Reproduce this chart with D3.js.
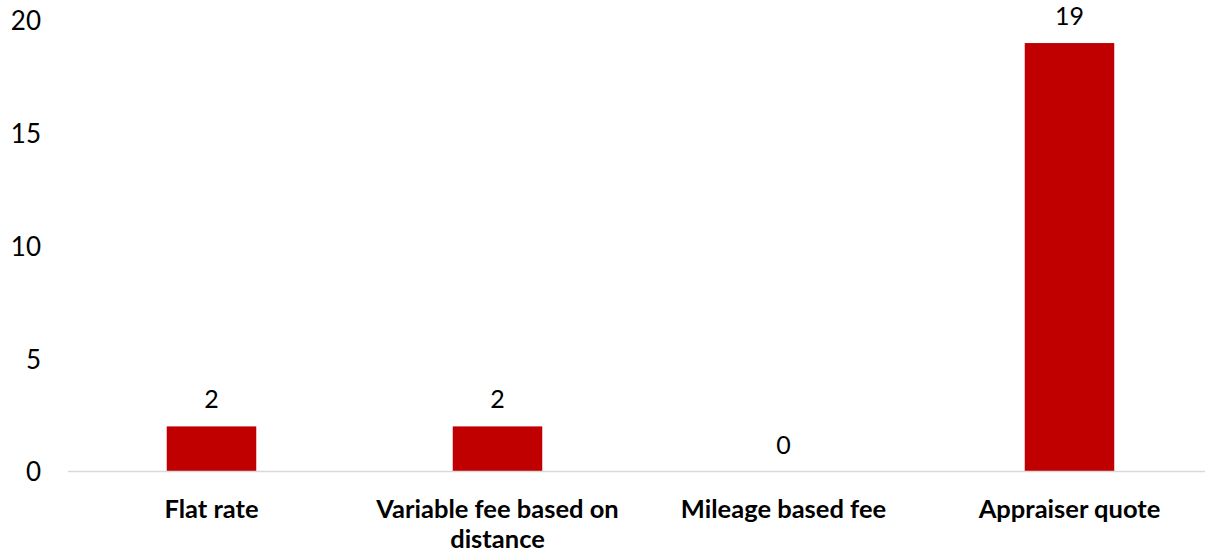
<!DOCTYPE html>
<html><head><meta charset="utf-8">
<script src="https://cdn.jsdelivr.net/npm/d3@7"></script>
<style>body{margin:0;background:#fff}svg{display:block}text{font-family:Lato,"Open Sans",sans-serif}</style>
</head><body>
<script>
const categories = ["Flat rate", "Variable fee based on distance", "Mileage based fee", "Appraiser quote"];
const categoryLines = [["Flat rate"], ["Variable fee based on", "distance"], ["Mileage based fee"], ["Appraiser quote"]];
const values = [2, 2, 0, 19];
const yTicks = [0, 5, 10, 15, 20];

const W = 1205, H = 556;
const svg = d3.select("body").append("svg").attr("width", W).attr("height", H);

const x = d3.scaleBand().domain(categories).range([68.5, 1212.5]).paddingInner(0.687).paddingOuter(0.3435);
const y = d3.scaleLinear().domain([0, 20]).range([471.5, 20.5]);

// y tick labels
const yAxis = d3.axisLeft(y).tickValues(yTicks).tickSize(0).tickPadding(0);
const ga = svg.append("g").attr("transform", "translate(41,0)").call(yAxis);
ga.select(".domain").remove();
ga.selectAll("text").attr("font-size", 26).attr("fill", "#000").attr("font-family", "Lato, 'Open Sans', sans-serif").attr("dy", "0.36em");

// bars
svg.selectAll("rect.bar").data(values).join("rect")
  .attr("class", "bar")
  .attr("x", (d, i) => x(categories[i]))
  .attr("width", x.bandwidth())
  .attr("y", d => y(d))
  .attr("height", d => y(0) - y(d))
  .attr("fill", "#c00000");

// baseline
svg.append("line").attr("x1", 68).attr("x2", W).attr("y1", y(0)).attr("y2", y(0))
  .attr("stroke", "#d9d9d9").attr("stroke-width", 1.5);

// value labels
svg.selectAll("text.val").data(values).join("text")
  .attr("class", "val")
  .attr("x", (d, i) => x(categories[i]) + x.bandwidth() / 2)
  .attr("y", d => y(d) - 18)
  .attr("text-anchor", "middle")
  .attr("font-size", 25)
  .attr("fill", "#000")
  .text(d => d);

// category labels
const cg = svg.selectAll("text.cat").data(categories).join("text")
  .attr("class", "cat")
  .attr("text-anchor", "middle")
  .attr("font-size", 25.5)
  .attr("font-weight", "bold")
  .attr("fill", "#000");
cg.each(function (c, i) {
  const t = d3.select(this);
  categoryLines[i].forEach((ln, k) => {
    t.append("tspan").attr("x", x(c) + x.bandwidth() / 2).attr("y", 518 + k * 30).text(ln);
  });
});
</script>
</body></html>
